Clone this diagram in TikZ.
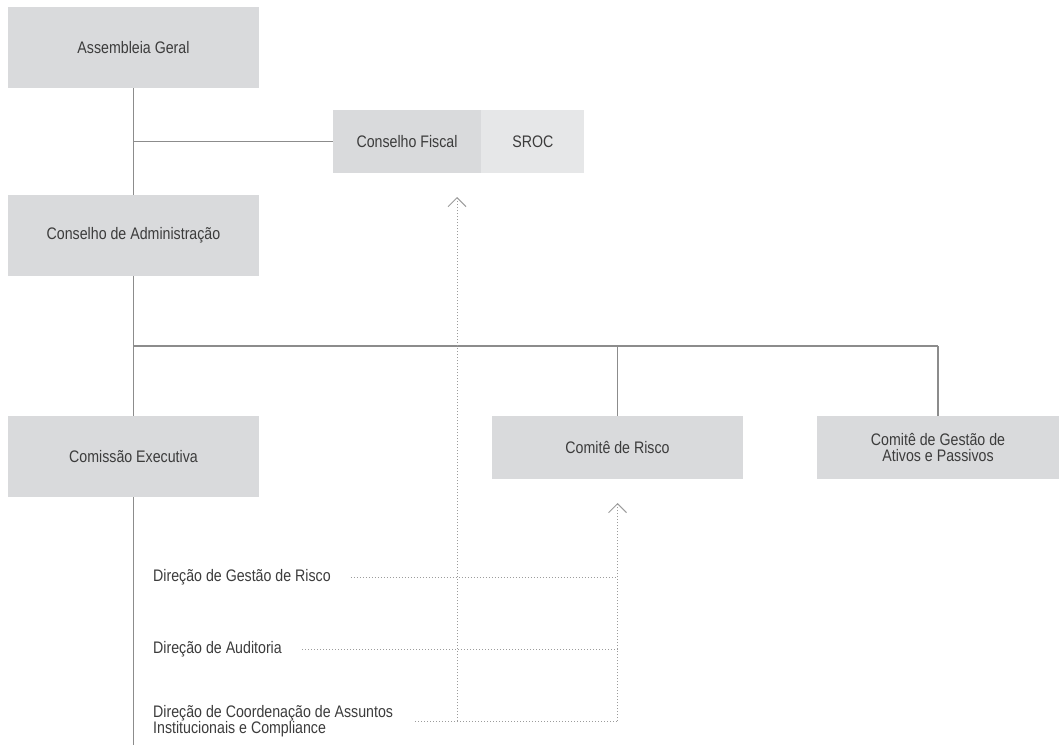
\documentclass[tikz,border=0pt]{standalone}
\usepackage{fontspec}
\setmainfont{Liberation Sans}[FakeStretch=0.85]
\usetikzlibrary{arrows.meta,positioning}
\definecolor{boxgray}{HTML}{D9DADC}
\definecolor{boxlight}{HTML}{E6E7E8}
\definecolor{linegray}{HTML}{8C8C8C}
\definecolor{dotgray}{HTML}{9C9C9C}
\definecolor{textgray}{HTML}{3C3C3C}

\begin{document}
\begin{tikzpicture}[x=1pt,y=-1pt]
  \tikzstyle{every node}=[font=\fontsize{16.7}{16.5}\selectfont, text=textgray]
  \tikzstyle{orgbox}=[fill=boxgray, minimum width=251pt, minimum height=81pt, inner sep=0pt, align=center]
  \tikzstyle{flatbox}=[orgbox, minimum height=63pt]
  \tikzstyle{dirlabel}=[anchor=west, inner sep=0pt, align=left]
  \tikzstyle{link}=[draw=linegray, line width=1.3pt]
  \tikzstyle{dots}=[draw=dotgray, line width=1pt, dash pattern=on 1pt off 2pt]
  \tikzstyle{upto}=[-{Straight Barb[length=9pt, width=18pt, line width=1pt]}]
\useasboundingbox (0,0) rectangle (1059,747);
\node[orgbox] (ag) at (133.5,47.5) {Assembleia Geral};
\node[flatbox, minimum width=148pt] (cf) at (407,141.5) {Conselho Fiscal};
\node[flatbox, fill=boxlight, minimum width=103pt, right=0pt of cf] (sroc) {SROC};
\node[orgbox] (ca) at (133.5,235.5) {Conselho de Administração};
\node[orgbox] (ce) at (133.5,456.5) {Comissão Executiva};
\node[flatbox] (cr) at (617.5,447.5) {Comitê de Risco};
\node[flatbox, minimum width=242pt] (cg) at (938,447.5) {Comitê de Gestão de\\Ativos e Passivos};
\node[dirlabel] (dgr) at (153,577) {Direção de Gestão de Risco};
\node[dirlabel] (da) at (153,649) {Direção de Auditoria};
\node[dirlabel] (dc) at (153,721) {Direção de Coordenação de Assuntos\\Institucionais e Compliance};
\coordinate (bus) at (0,346);
\coordinate (fisc) at (457,197);
\coordinate (risc) at (617.5,503);
\coordinate (ceend) at (133.5,745);
\draw[link] (ag.south) -- (ca.north);
\draw[link] (ag.south |- cf.west) -- (cf.west);
\draw[link] (ca.south) -- (ce.north);
\draw[link] (ca.south |- bus) -- (cg.north |- bus);
\draw[link] (cr.north |- bus) -- (cr.north);
\draw[link] (cg.north |- bus) -- (cg.north);
\draw[link] (ce.south) -- (ceend);
\draw[dots, shorten <=20pt] (dgr.east) -- (dgr.east -| risc);
\draw[dots, shorten <=20pt] (da.east) -- (da.east -| risc);
\draw[dots, shorten <=22pt] (dc.east) -- (dc.east -| risc);
\draw[dots, upto] (dc.east -| fisc) -- (fisc);
\draw[dots, upto] (dc.east -| risc) -- (risc);
\end{tikzpicture}
\end{document}
